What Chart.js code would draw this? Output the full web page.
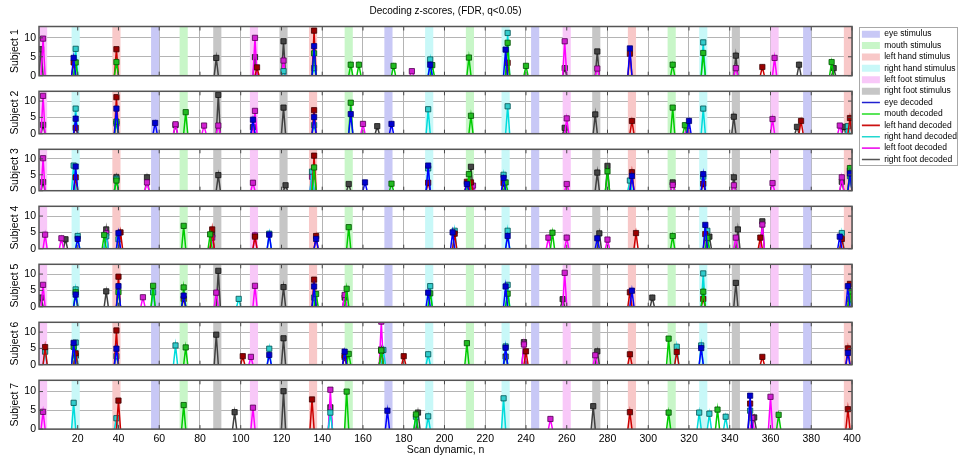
<!DOCTYPE html>
<html>
<head>
<meta charset="utf-8">
<title>Decoding z-scores</title>
<script src="https://cdn.jsdelivr.net/npm/chart.js@4.4.1/dist/chart.umd.min.js"></script>
<style>
  html, body { margin: 0; padding: 0; background: #fff; }
  #figure { position: relative; width: 958px; height: 458px; overflow: hidden; background: #fff; }
  #figure canvas { position: absolute; left: 0; }
</style>
</head>
<body>
<div id="figure"></div>
<script>
// class codes: E eye, M mouth, LH left hand, RH right hand, LF left foot, RF right foot
const classKeys = ['E', 'M', 'LH', 'RH', 'LF', 'RF'];
const stimulusNames = ['eye stimulus', 'mouth stimulus', 'left hand stimulus',
  'right hand stimulus', 'left foot stimulus', 'right foot stimulus'];
const decodedNames = ['eye decoded', 'mouth decoded', 'left hand decoded',
  'right hand decoded', 'left foot decoded', 'right foot decoded'];
const stimulusColors = ['#c8c8f6', '#c8f6c8', '#f8c8c8', '#c8f8f8', '#f8c8f8', '#c6c6c6'];
const lineColors = ['#0000ff', '#00cc00', '#cc0000', '#00dcdc', '#ff00ff', '#404040'];
const markerColors = ['#0000d0', '#22bb22', '#990000', '#33cccc', '#d020d0', '#454545'];
const markerEdges = ['#000070', '#005000', '#400000', '#005050', '#500050', '#111111'];
const legendLineColors = ['#2020d0', '#22dd22', '#cc1111', '#22d8d0', '#ee22ee', '#555555'];

const subjectNames = ['Subject 1', 'Subject 2', 'Subject 3', 'Subject 4',
  'Subject 5', 'Subject 6', 'Subject 7'];

// stimulus blocks (scan where block starts, class) - each block lasts 4 scans
const stimulusOnsets = [1, 17, 37, 56, 70, 86.5, 104.5, 119, 133.5, 151, 170.5, 190.5,
  210.5, 228, 242.5, 258, 272.5, 290, 309.5, 325, 341, 360, 376, 396];
const stimulusClasses = ['LF', 'RH', 'LH', 'E', 'M', 'RF', 'LF', 'RF', 'LH', 'M', 'E', 'RH',
  'M', 'RH', 'E', 'LF', 'RF', 'LH', 'M', 'RH', 'RF', 'LF', 'E', 'LH'];
const stimulusLength = 4;

const xTicks = [20, 40, 60, 80, 100, 120, 140, 160, 180, 200, 220, 240, 260, 280, 300,
  320, 340, 360, 380, 400];
const yTicks = [0, 5, 10];

// significant decoded z-scores: [class, scan, z]
const subject1 = [
  ['LF', 3, 9.8], ['RF', 2, 7.0], ['E', 18, 4.7], ['RH', 19, 7.1], ['LH', 18, 3.5], ['M', 19, 3.5],
  ['LH', 39, 7.0], ['M', 39, 3.6], ['RF', 88, 4.7], ['LF', 107, 10.0], ['RF', 107, 4.9],
  ['LH', 108, 2.2], ['RF', 121, 9.1], ['LF', 121, 4.0], ['RH', 121, 1.2], ['LH', 136, 11.9],
  ['E', 136, 7.8], ['M', 136, 5.9], ['RH', 136, 2.0], ['M', 154, 2.9], ['M', 158, 2.9],
  ['M', 175, 2.6], ['LF', 184, 1.2], ['RH', 193, 4.3], ['E', 193, 2.9], ['M', 194, 2.8],
  ['M', 212, 4.8], ['RH', 231, 11.3], ['M', 231, 8.7], ['E', 230, 6.9], ['LH', 231, 3.4],
  ['M', 240, 2.6], ['LF', 259, 9.1], ['RF', 259, 2.0], ['RF', 275, 6.4], ['LF', 275, 1.9],
  ['E', 291, 7.2], ['LH', 291, 5.8], ['M', 312, 2.9], ['RH', 327, 8.8], ['M', 327, 6.0],
  ['RF', 343, 5.3], ['LF', 343, 2.0], ['LH', 356, 2.3], ['LF', 362, 4.7], ['RF', 374, 2.9],
  ['M', 390, 3.6], ['RF', 391, 2.0]
];
const subject2 = [
  ['LF', 3, 11.6], ['RF', 3, 2.7], ['RH', 19, 7.7], ['E', 19, 4.6], ['LH', 19, 1.8],
  ['LH', 39, 11.2], ['E', 39, 7.7], ['M', 39, 3.7], ['RH', 39, 3.1], ['E', 58, 3.3],
  ['RF', 68, 2.6], ['LF', 68, 2.9], ['M', 73, 6.6], ['LF', 82, 2.5], ['RF', 89, 11.9],
  ['LF', 89, 2.5], ['LF', 107, 7.0], ['E', 106, 4.3], ['RF', 106, 2.0], ['RF', 121, 8.0],
  ['LH', 136, 7.2], ['E', 136, 5.1], ['RH', 136, 2.6], ['M', 154, 9.5], ['E', 154, 6.0],
  ['LF', 160, 3.0], ['RF', 167, 2.3], ['E', 174, 3.0], ['RH', 192, 7.5], ['M', 213, 5.5],
  ['RH', 231, 8.4], ['LF', 260, 4.7], ['RF', 259, 1.8], ['RF', 274, 5.9], ['LH', 292, 3.9],
  ['M', 312, 8.0], ['M', 318, 2.6], ['E', 320, 3.9], ['LF', 319, 2.3], ['RH', 327, 7.7],
  ['RF', 342, 5.2], ['LF', 361, 4.5], ['LH', 375, 3.9], ['RF', 373, 2.1], ['LF', 394, 2.5],
  ['RF', 396, 2.1], ['LH', 399, 4.8], ['RH', 398, 2.3]
];
const subject3 = [
  ['LF', 3, 10.2], ['RF', 3, 2.7], ['RH', 18, 7.9], ['E', 19, 7.6], ['LH', 19, 4.2],
  ['RF', 39, 4.3], ['RH', 39, 3.7], ['M', 39, 3.2], ['RF', 54, 4.2], ['LF', 54, 2.6],
  ['RF', 89, 4.9], ['LF', 106, 2.5], ['RF', 122, 1.7], ['LH', 136, 11.0], ['M', 136, 7.3],
  ['RH', 135, 6.0], ['LF', 135, 4.4], ['RF', 153, 2.1], ['E', 161, 2.6], ['M', 174, 2.2],
  ['E', 192, 7.9], ['RH', 192, 7.0], ['LH', 192, 2.5], ['RF', 213, 7.5], ['M', 212, 5.2],
  ['LH', 211, 2.8], ['E', 211, 2.1], ['LH', 213, 2.6], ['LF', 214, 1.6], ['RH', 229, 5.0],
  ['E', 229, 4.0], ['M', 230, 2.6], ['LH', 229, 2.4], ['LF', 260, 2.1], ['RF', 275, 5.7],
  ['RF', 280, 7.8], ['M', 280, 6.1], ['LH', 292, 5.8], ['E', 292, 4.6], ['RH', 291, 3.2],
  ['RF', 312, 2.6], ['LF', 312, 1.8], ['E', 327, 5.2], ['RH', 327, 4.4], ['LH', 327, 2.2],
  ['RF', 342, 4.2], ['LF', 342, 1.7], ['LF', 361, 2.4], ['LF', 395, 4.2], ['RF', 395, 2.8],
  ['M', 399, 7.1], ['LH', 399, 6.3], ['E', 399, 5.4], ['RH', 399, 4.6]
];
const subject4 = [
  ['LF', 4, 4.3], ['LF', 12, 3.2], ['RF', 14, 2.9], ['RH', 20, 3.9], ['E', 20, 3.0],
  ['RF', 34, 5.9], ['LF', 34, 4.8], ['M', 33, 4.2], ['RH', 34, 3.8], ['LH', 41, 5.0],
  ['E', 40, 4.8], ['RH', 40, 2.9], ['M', 72, 7.0], ['LH', 86, 5.9], ['RF', 86, 4.3],
  ['M', 85, 4.4], ['LF', 86, 3.4], ['LF', 107, 4.1], ['LH', 107, 3.7], ['RH', 114, 4.6],
  ['E', 114, 4.3], ['LH', 137, 3.9], ['E', 137, 3.0], ['M', 153, 6.6], ['E', 204, 5.0],
  ['RH', 205, 5.5], ['LH', 205, 4.6], ['RH', 231, 5.5], ['E', 231, 3.9], ['LF', 251, 3.4],
  ['M', 253, 4.9], ['LF', 260, 3.4], ['RF', 276, 4.7], ['E', 275, 3.2], ['LF', 280, 2.8],
  ['LH', 294, 4.8], ['M', 312, 3.9], ['E', 328, 7.3], ['RH', 329, 5.5], ['LH', 328, 4.5],
  ['RF', 330, 3.7], ['M', 329, 3.3], ['RF', 344, 5.9], ['LF', 343, 3.4], ['RF', 356, 8.4],
  ['LF', 356, 7.4], ['LH', 355, 3.4], ['RH', 395, 4.8], ['E', 394, 3.7], ['LH', 395, 3.0]
];
const subject5 = [
  ['LF', 3, 6.7], ['RF', 2, 2.8], ['RH', 19, 5.3], ['M', 19, 4.4], ['E', 19, 3.7],
  ['RF', 34, 4.7], ['LH', 40, 9.2], ['E', 40, 6.3], ['M', 40, 4.5], ['LF', 52, 2.9],
  ['M', 57, 6.4], ['RH', 57, 4.4], ['M', 72, 5.9], ['E', 72, 3.4], ['LH', 72, 2.4],
  ['RF', 89, 11.0], ['LF', 88, 4.3], ['RH', 99, 2.4], ['LF', 107, 6.4], ['RF', 121, 6.0],
  ['LH', 136, 8.3], ['E', 136, 6.2], ['M', 137, 3.9], ['RH', 136, 2.8], ['M', 152, 5.5],
  ['LF', 151, 3.6], ['RF', 151, 2.8], ['RH', 193, 6.3], ['E', 192, 4.3], ['M', 193, 4.1],
  ['RH', 231, 6.7], ['E', 230, 6.2], ['M', 231, 4.0], ['LF', 259, 10.4], ['RF', 258, 2.3],
  ['LH', 291, 4.4], ['E', 292, 4.9], ['RF', 302, 2.8], ['RH', 327, 10.2], ['M', 327, 4.6],
  ['LH', 327, 2.4], ['RF', 343, 7.3], ['LH', 399, 7.0], ['E', 398, 6.3], ['M', 399, 4.7],
  ['RH', 399, 2.3]
];
const subject6 = [
  ['LH', 4, 5.4], ['RH', 4, 4.0], ['E', 18, 6.7], ['RH', 19, 6.8], ['M', 18, 5.5],
  ['LH', 19, 3.5], ['RF', 19, 2.8], ['LH', 39, 10.5], ['E', 39, 4.9], ['RH', 39, 2.6],
  ['RH', 68, 5.9], ['M', 73, 5.3], ['RF', 88, 9.2], ['LH', 101, 2.6], ['LF', 105, 2.4],
  ['RH', 114, 4.9], ['E', 114, 3.0], ['RF', 121, 8.1], ['E', 151, 4.0], ['LH', 151, 2.8],
  ['RF', 151, 2.3], ['M', 153, 3.3], ['LF', 169, 13.2], ['RF', 169, 4.7], ['LH', 169, 4.3],
  ['M', 169, 4.4], ['RH', 170, 4.5], ['LH', 180, 2.6], ['RH', 192, 3.2], ['M', 211, 6.6],
  ['RH', 230, 5.6], ['E', 230, 5.2], ['RF', 230, 2.5], ['RF', 239, 6.9], ['LF', 239, 6.2],
  ['LH', 240, 4.1], ['RF', 275, 4.1], ['LF', 274, 2.9], ['LH', 291, 3.2], ['M', 310, 8.0],
  ['RH', 314, 5.5], ['LH', 314, 3.9], ['RH', 326, 5.9], ['E', 326, 5.1], ['LH', 356, 2.4],
  ['LH', 398, 5.0], ['E', 398, 3.6]
];
const subject7 = [
  ['LF', 3, 4.6], ['RH', 18, 7.0], ['LH', 40, 7.6], ['RH', 39, 2.9], ['M', 72, 6.4],
  ['RF', 97, 4.5], ['LF', 106, 5.7], ['RF', 121, 10.1], ['LH', 135, 7.9], ['LF', 144, 10.5],
  ['RF', 144, 5.8], ['RH', 144, 4.4], ['M', 152, 10.0], ['E', 172, 4.9], ['RF', 187, 4.4],
  ['M', 186, 3.9], ['RH', 186, 3.3], ['RH', 192, 3.4], ['RH', 229, 8.2], ['LF', 252, 2.7],
  ['RF', 273, 6.1], ['LH', 291, 4.5], ['M', 310, 4.4], ['RH', 325, 4.4], ['RH', 330, 4.1],
  ['M', 334, 5.2], ['RH', 338, 3.3], ['E', 350, 8.9], ['LH', 350, 6.8], ['RH', 350, 4.9],
  ['RF', 352, 3.1], ['LF', 351, 3.0], ['LF', 360, 8.6], ['M', 364, 3.8], ['LH', 398, 5.3]
];
const subjectData = [subject1, subject2, subject3, subject4, subject5, subject6, subject7];

Chart.defaults.font.family = '"Liberation Sans", Arial, Helvetica, sans-serif';
Chart.defaults.color = '#000';
Chart.defaults.animation = false;

// build one triangle per peak: zero on the neighbour scans, null to break the line
function peakSeries(rows, key) {
  const pts = [];
  rows.filter(r => r[0] === key)
    .sort((a, b) => a[1] - b[1])
    .forEach(([, n, z]) => {
      pts.push({x: n - 1, y: 0}, {x: n, y: z}, {x: n + 1, y: 0}, {x: n + 1, y: null});
    });
  return pts;
}

const bandsPlugin = {
  id: 'stimulusBands',
  beforeDatasetsDraw(chart) {
    const {ctx, chartArea: a, scales: {x}} = chart;
    ctx.save();
    ctx.beginPath();
    ctx.rect(a.left, a.top, a.right - a.left, a.bottom - a.top);
    ctx.clip();
    stimulusOnsets.forEach((s, i) => {
      const x0 = x.getPixelForValue(s);
      const x1 = x.getPixelForValue(s + stimulusLength);
      ctx.fillStyle = stimulusColors[classKeys.indexOf(stimulusClasses[i])];
      ctx.fillRect(x0, a.top, x1 - x0, a.bottom - a.top);
    });
    ctx.restore();
  }
};

// matlab style box with inward ticks
const framePlugin = {
  id: 'axesBox',
  afterDatasetsDraw(chart) {
    const {ctx, chartArea: a, scales: {x, y}} = chart;
    ctx.save();
    ctx.strokeStyle = '#4a4a4a';
    ctx.lineWidth = 1;
    ctx.beginPath();
    xTicks.forEach(v => {
      const px = x.getPixelForValue(v);
      ctx.moveTo(px, a.bottom); ctx.lineTo(px, a.bottom - 4);
      ctx.moveTo(px, a.top); ctx.lineTo(px, a.top + 4);
    });
    yTicks.forEach(v => {
      const py = y.getPixelForValue(v);
      ctx.moveTo(a.left, py); ctx.lineTo(a.left + 4, py);
      ctx.moveTo(a.right, py); ctx.lineTo(a.right - 4, py);
    });
    ctx.stroke();
    ctx.lineWidth = 1.5;
    ctx.strokeStyle = '#555';
    ctx.strokeRect(a.left, a.top, a.right - a.left, a.bottom - a.top);
    ctx.restore();
  }
};

const fig = document.getElementById('figure');
const plotLeft = 39, plotRight = 852, firstTop = 26.5, pitch = 57.8, plotH = 55.8;
const canvasW = 865;

subjectNames.forEach((name, k) => {
  const areaTop = firstTop + k * pitch;
  const areaBottom = areaTop + plotH;
  const first = k === 0, last = k === subjectNames.length - 1;
  const cTop = first ? 0 : Math.floor(areaTop) - 2;
  const cH = last ? 458 - cTop : Math.ceil(areaBottom) + 2 - cTop;

  const cv = document.createElement('canvas');
  cv.width = canvasW; cv.height = cH;
  cv.style.top = cTop + 'px';
  fig.appendChild(cv);

  const rows = subjectData[k];
  const datasets = classKeys.map((key, i) => ({
    label: decodedNames[i],
    data: peakSeries(rows, key),
    borderColor: lineColors[i],
    borderWidth: 1.5,
    backgroundColor: markerColors[i],
    pointBackgroundColor: markerColors[i],
    pointBorderColor: markerEdges[i],
    pointBorderWidth: 0.8,
    pointStyle: 'rect',
    pointRadius: c => (c.raw && c.raw.y > 0 ? 3.7 : 0),
    pointHoverRadius: c => (c.raw && c.raw.y > 0 ? 3.7 : 0),
    tension: 0,
    spanGaps: false,
    fill: false
  }));

  new Chart(cv, {
    type: 'line',
    data: {datasets},
    options: {
      responsive: false,
      events: [],
      layout: {
        padding: {
          left: 0,
          right: canvasW - plotRight,
          top: first ? 0 : areaTop - cTop,
          bottom: last ? 0 : cTop + cH - areaBottom
        }
      },
      plugins: {
        legend: {display: false},
        tooltip: {enabled: false},
        title: {
          display: first,
          text: 'Decoding z-scores, (FDR, q<0.05)',
          fullSize: false,
          font: {size: 10, weight: 'normal'},
          padding: {top: 5, bottom: areaTop - 17}
        }
      },
      scales: {
        x: {
          type: 'linear',
          min: 1,
          max: 400,
          afterBuildTicks: s => { s.ticks = xTicks.map(v => ({value: v})); },
          afterFit: s => { s.height = last ? 458 - areaBottom : 0; },
          grid: {color: '#b4b4b4', borderDash: [1, 2], lineWidth: 1, drawTicks: false},
          border: {display: false},
          ticks: {display: last, font: {size: 10.5}, padding: 4, maxRotation: 0, autoSkip: false},
          title: {display: last, text: 'Scan dynamic, n', font: {size: 10.5}, padding: {top: 0, bottom: 2}}
        },
        y: {
          min: 0,
          max: 13,
          afterBuildTicks: s => { s.ticks = yTicks.map(v => ({value: v})); },
          afterFit: s => { s.width = plotLeft; },
          grid: {color: '#b4b4b4', borderDash: [1, 2], lineWidth: 1, drawTicks: false},
          border: {display: false},
          ticks: {font: {size: 10.5}, padding: 3},
          title: {display: true, text: name, font: {size: 10.5}, padding: {top: 8.5, bottom: 0}}
        }
      }
    },
    plugins: [bandsPlugin, framePlugin]
  });
});

// legend drawn by its own chart in the box at the right
const legendBoxH = 139;
const legendCanvas = document.createElement('canvas');
legendCanvas.width = 99; legendCanvas.height = 180;
legendCanvas.style.left = '859px';
legendCanvas.style.top = '27px';
fig.appendChild(legendCanvas);

const legendBox = {
  id: 'legendBox',
  afterDraw(chart) {
    const {ctx, width} = chart;
    ctx.save();
    ctx.strokeStyle = '#a8a8a8';
    ctx.lineWidth = 1;
    ctx.strokeRect(0.5, 0.5, width - 1, legendBoxH - 1);
    ctx.restore();
  }
};

new Chart(legendCanvas, {
  type: 'line',
  data: {datasets: decodedNames.map((n, i) => ({label: n, data: [], borderColor: lineColors[i]}))},
  options: {
    responsive: false,
    events: [],
    scales: {x: {display: false}, y: {display: false}},
    plugins: {
      tooltip: {enabled: false},
      legend: {
        display: true,
        position: 'top',
        align: 'start',
        maxHeight: 178,
        labels: {
          font: {size: 8.5},
          color: '#000',
          usePointStyle: true,
          pointStyleWidth: 18,
          boxHeight: 7,
          padding: 2.9,
          generateLabels: () => [
            ...stimulusNames.map((t, i) => ({
              text: t, fillStyle: stimulusColors[i], strokeStyle: stimulusColors[i],
              lineWidth: 0, pointStyle: 'rect', hidden: false, fontColor: '#000'
            })),
            ...decodedNames.map((t, i) => ({
              text: t, fillStyle: legendLineColors[i], strokeStyle: legendLineColors[i],
              lineWidth: 1.6, pointStyle: 'line', hidden: false, fontColor: '#000'
            }))
          ]
        }
      }
    }
  },
  plugins: [legendBox]
});
</script>
</body>
</html>
